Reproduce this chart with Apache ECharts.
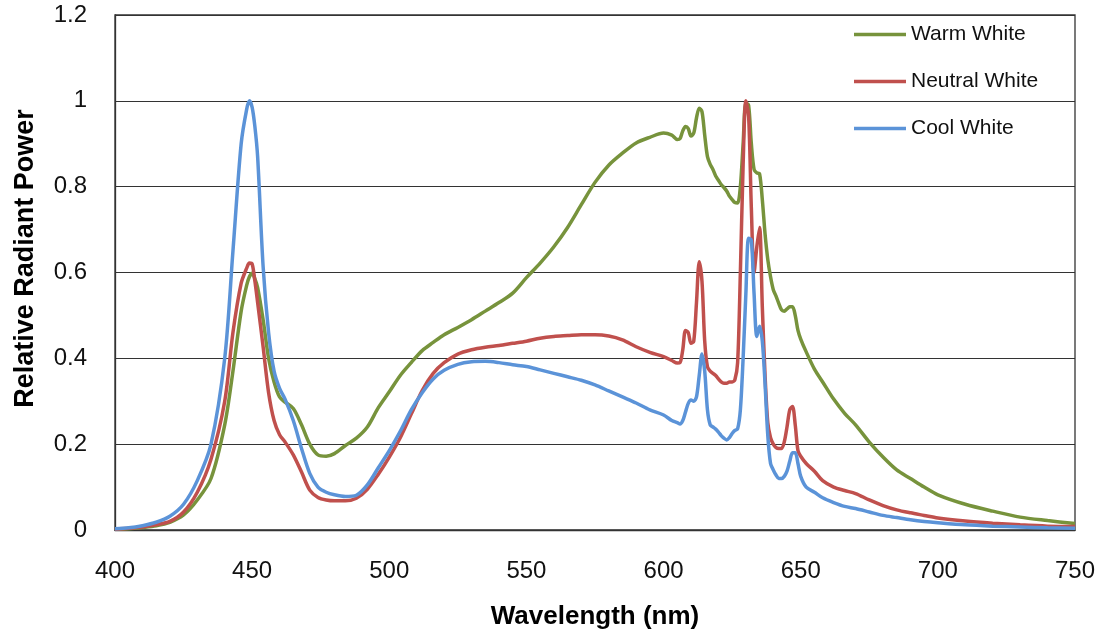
<!DOCTYPE html>
<html>
<head>
<meta charset="utf-8">
<script src="https://cdn.jsdelivr.net/npm/echarts@6/dist/echarts.min.js"></script>
<style>html,body{margin:0;padding:0;background:#fff}#c{width:1103px;height:639px}</style>
</head>
<body>
<div id="c"></div>
<script>
const wavelengths = [400,405,410,415,420,425,430,435,440,
443,446,448,449,450,451,452,
454,456,458,460,462,
465,468,471,474,477,480,
484,488,492,496,500,504,508,512,516,520,
525,530,535,540,545,550,555,560,565,570,575,580,585,590,595,600,
603,605,
606,607,608,609,610,611,612,613,614,615,
616,617,618,619,620,621,622,623,624,625,
626,627,628,629,630,631,632,633,634,635,
636,637,638,639,640,641,642,643,644,645,
646,647,648,649,650,
652,655,658,662,666,670,
675,680,685,690,695,700,
710,720,730,740,750];

const warmWhite = [0.002,0.003,0.006,0.01,0.018,0.035,0.07,0.12,0.245,
0.37,0.51,0.57,0.59,0.598,0.585,0.565,
0.49,0.4,0.345,0.31,0.298,
0.283,0.245,0.2,0.175,0.172,0.178,
0.197,0.214,0.24,0.285,0.322,0.36,0.39,0.418,0.437,0.455,
0.472,0.49,0.51,0.53,0.552,0.588,0.622,0.66,0.705,0.758,0.81,0.85,0.878,0.902,0.915,0.925,
0.92,0.91,
0.912,0.93,0.94,0.935,0.918,0.925,0.96,0.983,0.975,0.92,
0.87,0.852,0.84,0.825,0.815,0.805,0.798,0.79,0.778,0.77,
0.763,0.762,0.8,0.9,0.995,0.99,0.9,0.84,0.832,0.83,
0.77,0.69,0.63,0.59,0.56,0.545,0.528,0.513,0.51,0.515,
0.52,0.52,0.5,0.465,0.445,
0.415,0.375,0.345,0.305,0.272,0.245,
0.205,0.17,0.14,0.12,0.1,0.082,
0.06,0.044,0.03,0.022,0.015];

const neutralWhite = [0.002,0.004,0.007,0.012,0.02,0.042,0.088,0.165,0.3,
0.46,0.575,0.61,0.622,0.62,0.58,0.53,
0.427,0.32,0.255,0.222,0.205,
0.175,0.135,0.093,0.076,0.07,0.068,
0.068,0.074,0.095,0.13,0.17,0.215,0.27,0.325,0.365,0.39,
0.41,0.42,0.426,0.43,0.435,0.44,0.447,0.451,0.453,0.455,0.455,0.452,0.443,0.427,0.414,0.404,
0.395,0.389,
0.39,0.42,0.465,0.46,0.435,0.44,0.53,0.625,0.58,0.44,
0.38,0.37,0.365,0.36,0.352,0.345,0.342,0.342,0.345,0.345,
0.35,0.39,0.6,0.85,1.0,0.965,0.75,0.6,0.66,0.705,
0.52,0.36,0.25,0.215,0.2,0.192,0.19,0.19,0.205,0.24,
0.28,0.288,0.245,0.185,0.172,
0.155,0.137,0.115,0.1,0.092,0.085,
0.07,0.057,0.047,0.04,0.034,0.028,
0.021,0.016,0.012,0.009,0.008];

const coolWhite = [0.003,0.005,0.01,0.018,0.032,0.06,0.115,0.2,0.4,
0.65,0.9,0.98,1.0,0.985,0.94,0.87,
0.614,0.46,0.37,0.33,0.305,
0.255,0.19,0.132,0.1,0.088,0.082,
0.078,0.081,0.105,0.145,0.185,0.23,0.28,0.32,0.352,0.372,
0.386,0.392,0.393,0.39,0.385,0.381,0.373,0.365,0.357,0.349,0.338,0.324,0.31,0.296,0.28,0.268,
0.255,0.25,
0.247,0.255,0.275,0.295,0.303,0.3,0.31,0.36,0.41,0.37,
0.28,0.245,0.24,0.235,0.228,0.22,0.214,0.21,0.215,0.225,
0.232,0.236,0.28,0.4,0.55,0.68,0.675,0.55,0.451,0.475,
0.44,0.34,0.22,0.155,0.14,0.128,0.12,0.12,0.125,0.137,
0.16,0.18,0.18,0.155,0.125,
0.1,0.088,0.075,0.064,0.055,0.05,
0.042,0.034,0.029,0.024,0.02,0.017,
0.012,0.009,0.007,0.005,0.004];

const seriesNames = ['Warm White', 'Neutral White', 'Cool White'];
const seriesValues = [warmWhite, neutralWhite, coolWhite];
const seriesColors = ['#77933C', '#C0504D', '#5B93D8'];

const font = 'Liberation Sans, Arial, sans-serif';
const chart = echarts.init(document.getElementById('c'), null, {renderer: 'canvas'});

chart.setOption({
  animation: false,
  backgroundColor: '#ffffff',
  grid: {left: 115, right: 28, top: 15, bottom: 109, show: true, borderColor: '#333', borderWidth: 1.3, containLabel: false},
  legend: {
    orient: 'vertical', left: 849, top: 19,
    icon: 'rect',
    itemWidth: 52, itemHeight: 3.5, itemGap: 26,
    textStyle: {fontFamily: font, fontSize: 21, color: '#111'},
    data: seriesNames
  },
  xAxis: {
    type: 'value', min: 400, max: 750, interval: 50,
    name: 'Wavelength (nm)', nameLocation: 'middle', nameGap: 74,
    nameTextStyle: {fontFamily: font, fontSize: 26, fontWeight: 'bold', color: '#000'},
    axisLine: {show: true, lineStyle: {color: '#333', width: 1.3}},
    axisTick: {show: false},
    axisLabel: {fontFamily: font, fontSize: 24, color: '#111', margin: 29},
    splitLine: {show: false}
  },
  yAxis: {
    type: 'value', min: 0, max: 1.2, interval: 0.2,
    name: 'Relative Radiant Power', nameLocation: 'middle', nameGap: 76, nameRotate: 90,
    nameTextStyle: {fontFamily: font, fontSize: 27, fontWeight: 'bold', color: '#000', padding: [0, 0, 0, 28]},
    axisLine: {show: true, lineStyle: {color: '#333', width: 1.3}},
    axisTick: {show: false},
    axisLabel: {fontFamily: font, fontSize: 24, color: '#111', margin: 28},
    splitLine: {show: true, lineStyle: {color: '#333', width: 1.2}}
  },
  series: seriesNames.map((name, i) => ({
    name: name,
    type: 'line',
    symbol: 'none',
    smooth: 0.3,
    lineStyle: {width: 3.5, color: seriesColors[i]},
    itemStyle: {color: seriesColors[i]},
    data: wavelengths.map((w, j) => [w, seriesValues[i][j]])
  }))
});
</script>
</body>
</html>
